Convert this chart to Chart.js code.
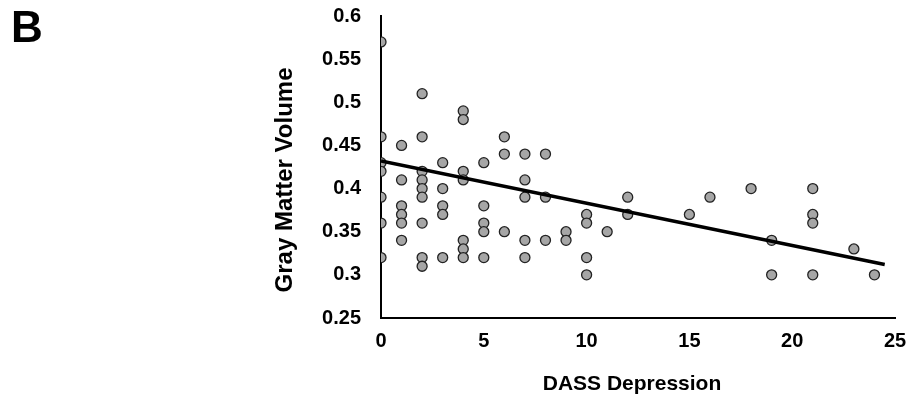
<!DOCTYPE html>
<html>
<head>
<meta charset="utf-8">
<script src="https://cdn.jsdelivr.net/npm/chart.js@4.4.0/dist/chart.umd.min.js"></script>
<style>
  html, body { margin: 0; padding: 0; background: #fff; }
  #wrap { width: 911px; height: 397px; position: relative; }
</style>
</head>
<body>
<div id="wrap"><canvas id="myChart" width="911" height="397"></canvas></div>
<script>
// DASS depression score of each subject
var dassScores = [
  0, 0, 0, 0, 0, 0, 0,
  1, 1, 1, 1, 1, 1,
  2, 2, 2, 2, 2, 2, 2, 2, 2,
  3, 3, 3, 3, 3,
  4, 4, 4, 4, 4, 4, 4,
  5, 5, 5, 5, 5,
  6, 6, 6,
  7, 7, 7, 7, 7,
  8, 8, 8,
  9, 9,
  10, 10, 10, 10,
  11,
  12, 12,
  15, 16, 18,
  19, 19,
  21, 21, 21, 21,
  23, 24
];
// gray matter volume of the same subjects
var grayVolume = [
  0.57, 0.46, 0.43, 0.42, 0.39, 0.36, 0.32,
  0.45, 0.41, 0.38, 0.37, 0.36, 0.34,
  0.51, 0.46, 0.42, 0.41, 0.40, 0.39, 0.36, 0.32, 0.31,
  0.43, 0.40, 0.38, 0.37, 0.32,
  0.49, 0.48, 0.42, 0.41, 0.34, 0.33, 0.32,
  0.43, 0.38, 0.36, 0.35, 0.32,
  0.46, 0.44, 0.35,
  0.44, 0.41, 0.39, 0.34, 0.32,
  0.44, 0.39, 0.34,
  0.35, 0.34,
  0.37, 0.36, 0.32, 0.30,
  0.35,
  0.39, 0.37,
  0.37, 0.39, 0.40,
  0.34, 0.30,
  0.40, 0.37, 0.36, 0.30,
  0.33, 0.30
];
// fitted trend line
var trendX = [0, 24.5];
var trendY = [0.432, 0.312];

var xTicks = [0, 5, 10, 15, 20, 25];
var yTicks = [0.25, 0.3, 0.35, 0.4, 0.45, 0.5, 0.55, 0.6];

var xTitle = "DASS Depression";
var yTitle = "Gray Matter Volume";
var panelLabel = "B";

var FONT = "'Liberation Sans', Arial, Helvetica, sans-serif";

var points = dassScores.map(function (x, i) { return { x: x, y: grayVolume[i] }; });
var trend = trendX.map(function (x, i) { return { x: x, y: trendY[i] }; });

// axis titles and panel letter
var textPlugin = {
  id: 'textPlugin',
  afterDraw: function (chart) {
    var c = chart.ctx;
    var area = chart.chartArea;
    c.save();
    c.fillStyle = '#000';
    c.font = 'bold 44px ' + FONT;
    c.textAlign = 'left';
    c.textBaseline = 'alphabetic';
    c.fillText(panelLabel, 11, 42);

    c.font = 'bold 21px ' + FONT;
    c.textAlign = 'center';
    c.textBaseline = 'middle';
    c.fillText(xTitle, (area.left + area.right) / 2 - 6, 384);

    c.translate(285, 180);
    c.rotate(-Math.PI / 2);
    c.font = 'bold 24px ' + FONT;
    c.fillText(yTitle, 0, 0);
    c.restore();
  }
};

var ctx = document.getElementById('myChart').getContext('2d');
var chart = new Chart(ctx, {
  type: 'scatter',
  data: {
    datasets: [{
      type: 'line',
      label: 'trend',
      data: trend,
      borderColor: '#000',
      borderWidth: 3.5,
      pointRadius: 0,
      fill: false,
      order: 0
    }, {
      label: 'subjects',
      data: points,
      backgroundColor: '#a6a6a6',
      borderColor: '#222',
      borderWidth: 1.3,
      pointRadius: 5,
      order: 1
    }]
  },
  options: {
    responsive: false,
    animation: false,
    layout: { padding: { left: 300, right: 16, top: 16, bottom: 0 } },
    plugins: {
      legend: { display: false },
      tooltip: { enabled: false }
    },
    scales: {
      x: {
        type: 'linear',
        min: 0, max: 25,
        afterFit: function (s) { s.height = 79; s.paddingLeft = 0; s.paddingRight = 0; },
        afterBuildTicks: function (s) { s.ticks = xTicks.map(function (v) { return { value: v }; }); },
        grid: { display: false, drawTicks: false },
        border: { display: true, color: '#000', width: 2 },
        ticks: { color: '#000', padding: 11, font: { family: FONT, size: 20, weight: 'bold' }, maxRotation: 0 }
      },
      y: {
        type: 'linear',
        min: 0.25, max: 0.6,
        afterFit: function (s) { s.width = 81; s.paddingTop = 0; s.paddingBottom = 0; },
        afterBuildTicks: function (s) { s.ticks = yTicks.map(function (v) { return { value: v }; }); },
        grid: { display: false, drawTicks: false },
        border: { display: true, color: '#000', width: 2 },
        ticks: {
          color: '#000', padding: 20,
          font: { family: FONT, size: 20, weight: 'bold' },
          callback: function (v) { return String(Math.round(v * 100) / 100); }
        }
      }
    }
  },
  plugins: [textPlugin]
});
</script>
</body>
</html>
